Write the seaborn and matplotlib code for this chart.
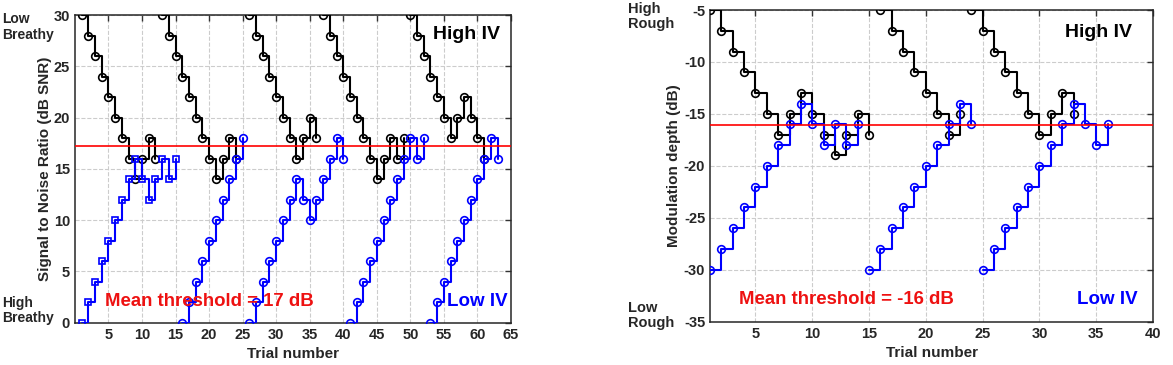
import matplotlib
matplotlib.use('Agg')
import pandas as pd
import matplotlib.pyplot as plt
import seaborn as sns

# left panel: breathiness, signal to noise ratio (dB SNR)
snr_high_starts = [1, 13, 26, 37, 50]
snr_high_levels = [
    [30, 28, 26, 24, 22, 20, 18, 16, 14, 16, 18, 16],
    [30, 28, 26, 24, 22, 20, 18, 16, 14, 16, 18, 16],
    [30, 28, 26, 24, 22, 20, 18, 16, 18, 20, 18],
    [30, 28, 26, 24, 22, 20, 18, 16, 14, 16, 18, 16, 18],
    [30, 28, 26, 24, 22, 20, 18, 20, 22, 20, 18, 16],
]
snr_low_starts = [1, 16, 26, 41, 53]
snr_low_levels = [
    [0, 2, 4, 6, 8, 10, 12, 14, 16, 14, 12, 14, 16, 14, 16],
    [0, 2, 4, 6, 8, 10, 12, 14, 16, 18],
    [0, 2, 4, 6, 8, 10, 12, 14, 12, 10, 12, 14, 16, 18, 16],
    [0, 2, 4, 6, 8, 10, 12, 14, 16, 18, 16, 18],
    [0, 2, 4, 6, 8, 10, 12, 14, 16, 18, 16],
]
snr_low_markers = ['s', 'o', 'o', 'o', 'o']
snr_threshold = 17.2

# right panel: roughness, modulation depth (dB)
mod_high_starts = [1, 16, 24]
mod_high_levels = [
    [-5, -7, -9, -11, -13, -15, -17, -15, -13, -15, -17, -19, -17, -15, -17],
    [-5, -7, -9, -11, -13, -15, -17, -15],
    [-5, -7, -9, -11, -13, -15, -17, -15, -13, -15],
]
mod_low_starts = [1, 15, 25]
mod_low_levels = [
    [-30, -28, -26, -24, -22, -20, -18, -16, -14, -16, -18, -16, -18, -16],
    [-30, -28, -26, -24, -22, -20, -18, -16, -14, -16],
    [-30, -28, -26, -24, -22, -20, -18, -16, -14, -16, -18, -16],
]
mod_threshold = -16.1


def runs_frame(starts, levels):
    rows = []
    for r, (s, lv) in enumerate(zip(starts, levels)):
        for i, v in enumerate(lv):
            rows.append({'trial': s + i, 'level': v, 'run': r})
    return pd.DataFrame(rows)


def draw_runs(ax, df, color, markers, z):
    for r, sub in df.groupby('run'):
        ms = 4.2 if markers[r] == 's' else 5.5
        sns.lineplot(data=sub, x='trial', y='level', ax=ax, color=color,
                     drawstyle='steps-post', marker=markers[r], markersize=ms,
                     markerfacecolor='none', markeredgecolor=color,
                     markeredgewidth=1.2, linewidth=1.5, estimator=None,
                     sort=False, zorder=z, legend=False)


def style_axes(ax):
    ax.grid(True, linestyle='--', color='#cccccc', linewidth=0.8)
    ax.set_axisbelow(True)
    ax.tick_params(direction='in', top=True, right=True, labelsize=10.5,
                   length=4, width=1, color='#333333')
    for sp in ax.spines.values():
        sp.set_color('#262626')
        sp.set_linewidth(1.1)


sns.set_style('white')
plt.rcParams['font.family'] = ['Liberation Sans', 'DejaVu Sans']
plt.rcParams['font.weight'] = 'bold'
plt.rcParams['axes.labelweight'] = 'bold'
plt.rcParams['axes.unicode_minus'] = False

fig = plt.figure(figsize=(11.73, 3.65), dpi=100)
ax1 = fig.add_axes([0.0639, 0.1159, 0.3717, 0.843])
ax2 = fig.add_axes([0.6053, 0.1186, 0.3777, 0.854])

# left
draw_runs(ax1, runs_frame(snr_high_starts, snr_high_levels), 'black', ['o'] * 5, 3)
draw_runs(ax1, runs_frame(snr_low_starts, snr_low_levels), '#0000ff', snr_low_markers, 4)
ax1.axhline(snr_threshold, color='red', linewidth=1.2, zorder=5)
ax1.set_xlim(0, 65)
ax1.set_ylim(0, 30)
ax1.set_xticks(range(5, 66, 5))
ax1.set_yticks(range(0, 31, 5))
ax1.set_xlabel('Trial number', fontsize=11)
ax1.set_ylabel('Signal to Noise Ratio (dB SNR)', fontsize=11, labelpad=1)
style_axes(ax1)
ax1.text(58.4, 28.1, 'High IV', color='black', fontsize=14, ha='center', va='center')
ax1.text(4.5, 2.1, 'Mean threshold = 17 dB', color='#ee1111', fontsize=13.4,
         ha='left', va='center', zorder=6)
ax1.text(60.0, 2.1, 'Low IV', color='#0000ff', fontsize=13.5, ha='center', va='center')
ax1.text(-0.167, 0.962, 'Low\nBreathy', transform=ax1.transAxes, fontsize=10,
         ha='left', va='center', linespacing=1.15)
ax1.text(-0.167, 0.04, 'High\nBreathy', transform=ax1.transAxes, fontsize=10,
         ha='left', va='center', linespacing=1.15)

# right
draw_runs(ax2, runs_frame(mod_high_starts, mod_high_levels), 'black', ['o'] * 3, 3)
draw_runs(ax2, runs_frame(mod_low_starts, mod_low_levels), '#0000ff', ['o'] * 3, 4)
ax2.axhline(mod_threshold, color='red', linewidth=1.2, zorder=5)
ax2.set_xlim(1, 40)
ax2.set_ylim(-35, -5)
ax2.set_xticks(range(5, 41, 5))
ax2.set_yticks(range(-35, -4, 5))
ax2.set_xlabel('Trial number', fontsize=11)
ax2.set_ylabel('Modulation depth (dB)', fontsize=11, labelpad=2)
style_axes(ax2)
ax2.text(35.2, -7.2, 'High IV', color='black', fontsize=14, ha='center', va='center')
ax2.text(3.55, -32.9, 'Mean threshold = -16 dB', color='#ee1111', fontsize=13.4,
         ha='left', va='center')
ax2.text(36.0, -32.9, 'Low IV', color='#0000ff', fontsize=13.5, ha='center', va='center')
ax2.text(-0.185, 0.98, 'High\nRough', transform=ax2.transAxes, fontsize=10.5,
         ha='left', va='center', linespacing=1.1)
ax2.text(-0.185, 0.02, 'Low\nRough', transform=ax2.transAxes, fontsize=10.5,
         ha='left', va='center', linespacing=1.1)

fig.savefig('out.png', dpi=100)
